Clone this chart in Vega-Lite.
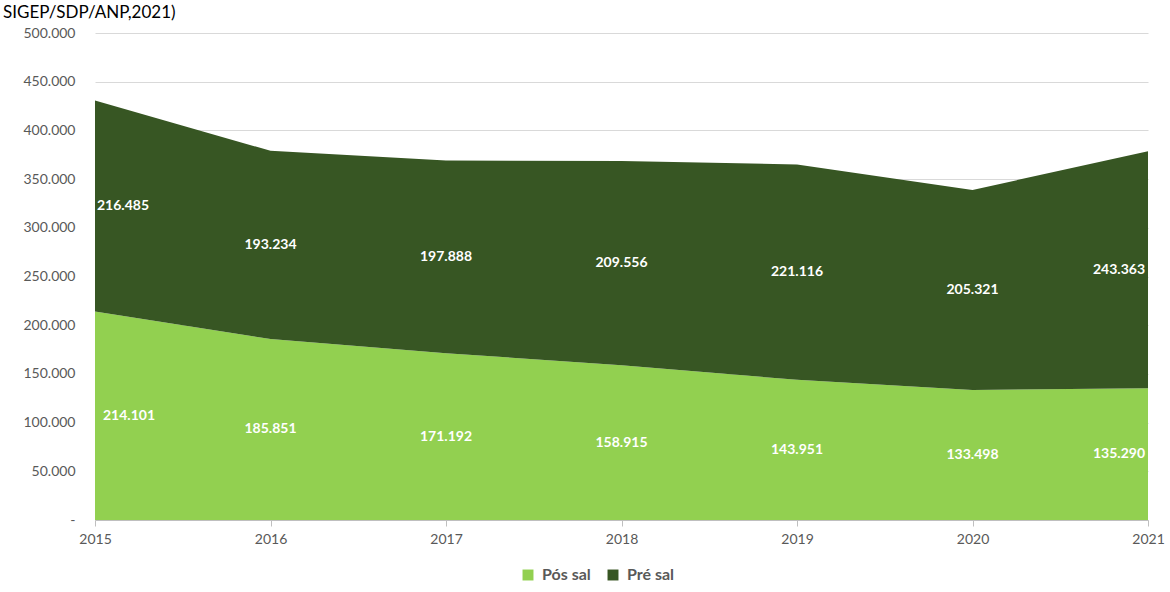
{
  "$schema": "https://vega.github.io/schema/vega-lite/v6.json",
  "width": 1053,
  "height": 487,
  "autosize": {"type": "none"},
  "padding": {"left": 95, "top": 33, "right": 22, "bottom": 72},
  "background": "white",
  "title": {
    "text": "SIGEP/SDP/ANP,2021)",
    "anchor": "start",
    "frame": "group",
    "dx": -92,
    "dy": 13,
    "offset": 4,
    "baseline": "alphabetic",
    "font": "Lato",
    "fontSize": 17,
    "fontWeight": "normal",
    "color": "#000000"
  },
  "config": {
    "locale": {"number": {"decimal": ",", "thousands": ".", "grouping": [3], "currency": ["R$", ""]}},
    "view": {"stroke": null},
    "font": "Lato"
  },
  "data": {
    "values": [
      {"year": 2015, "series": "Pós sal", "v": 214101},
      {"year": 2016, "series": "Pós sal", "v": 185851},
      {"year": 2017, "series": "Pós sal", "v": 171192},
      {"year": 2018, "series": "Pós sal", "v": 158915},
      {"year": 2019, "series": "Pós sal", "v": 143951},
      {"year": 2020, "series": "Pós sal", "v": 133498},
      {"year": 2021, "series": "Pós sal", "v": 135290},
      {"year": 2015, "series": "Pré sal", "v": 216485},
      {"year": 2016, "series": "Pré sal", "v": 193234},
      {"year": 2017, "series": "Pré sal", "v": 197888},
      {"year": 2018, "series": "Pré sal", "v": 209556},
      {"year": 2019, "series": "Pré sal", "v": 221116},
      {"year": 2020, "series": "Pré sal", "v": 205321},
      {"year": 2021, "series": "Pré sal", "v": 243363}
    ]
  },
  "transform": [
    {"stack": "v", "groupby": ["year"], "sort": [{"field": "series", "order": "descending"}], "as": ["y0", "y1"]}
  ],
  "layer": [
    {
      "mark": {"type": "area", "opacity": 1},
      "encoding": {
        "x": {
          "field": "year", "type": "quantitative",
          "scale": {"domain": [2015, 2021], "nice": false, "zero": false},
          "axis": {
            "title": null, "values": [2015, 2016, 2017, 2018, 2019, 2020, 2021], "format": "d",
            "grid": false, "domain": true, "domainColor": "#bfbfbf", "ticks": true, "tickColor": "#bfbfbf",
            "tickSize": 6, "labelFontSize": 14, "labelColor": "#595959", "labelPadding": 6,
            "labelFont": "Lato", "labelFlush": false
          }
        },
        "y": {
          "field": "y1", "type": "quantitative",
          "scale": {"domain": [0, 500000], "nice": false},
          "axis": {
            "title": null, "values": [0, 50000, 100000, 150000, 200000, 250000, 300000, 350000, 400000, 450000, 500000],
            "labelExpr": "datum.value == 0 ? '-' : format(datum.value, ',d')",
            "grid": true, "gridColor": "#d9d9d9", "domain": false, "ticks": false,
            "labelFontSize": 14, "labelColor": "#595959", "labelPadding": 20, "labelFont": "Lato"
          }
        },
        "y2": {"field": "y0"},
        "color": {
          "field": "series", "type": "nominal",
          "scale": {"domain": ["Pós sal", "Pré sal"], "range": ["#92D050", "#375623"]},
          "legend": {
            "title": null, "orient": "none", "legendX": 425, "legendY": 534, "direction": "horizontal",
            "symbolType": "square", "symbolSize": 120, "symbolStrokeWidth": 0, "symbolOpacity": 1,
            "labelFontSize": 16, "labelFontWeight": "bold", "labelColor": "#595959", "labelFont": "Lato",
            "columnPadding": 14, "labelOffset": 6
          }
        }
      }
    },
    {
      "transform": [
        {"fold": ["y0", "y1"], "as": ["k", "pos"]}
      ],
      "mark": {
        "type": "text", "color": "white", "fontWeight": "bold", "fontSize": 14, "font": "Lato",
        "baseline": "middle",
        "align": {"expr": "datum.year == 2015 ? 'left' : (datum.year == 2021 ? 'right' : 'center')"},
        "dx": {"expr": "datum.year == 2015 ? (datum.series == 'Pós sal' ? 8 : 2) : (datum.year == 2021 ? -3 : 0)"}
      },
      "encoding": {
        "x": {"field": "year", "type": "quantitative"},
        "y": {"field": "pos", "type": "quantitative", "aggregate": "mean"},
        "detail": {"field": "series", "type": "nominal"},
        "text": {"field": "v", "type": "quantitative", "aggregate": "max", "format": ",d"}
      }
    }
  ]
}
